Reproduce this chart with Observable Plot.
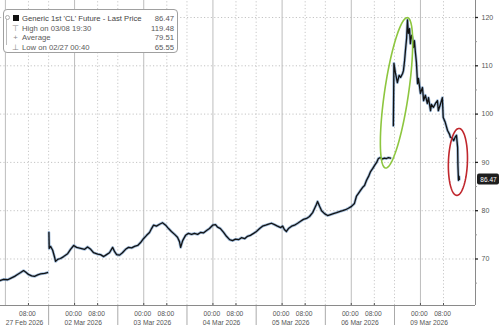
<!DOCTYPE html>
<html><head><meta charset="utf-8">
<script src="https://cdn.jsdelivr.net/npm/d3@7"></script>
<script src="https://cdn.jsdelivr.net/npm/@observablehq/plot@0.6"></script>
<style>
html,body{margin:0;padding:0;background:#fff;}
#wrap{position:relative;width:500px;height:325px;overflow:hidden;font-family:"Liberation Sans",Arial,sans-serif;}
#legend{position:absolute;left:3px;top:9px;width:175px;height:44px;box-sizing:border-box;border:1px solid #a0a0a0;border-radius:4px;background:#fff;font-size:7.7px;color:#5a5a5a;}
.row{position:absolute;left:0;right:0;height:9px;line-height:9px;white-space:nowrap;}
.lbl{position:absolute;left:18px;}
.val{position:absolute;right:3px;}
.ic{position:absolute;left:8px;width:7px;text-align:center;color:#888;}
.sq{position:absolute;left:9px;top:1.5px;width:6px;height:6px;background:#111;}
</style></head>
<body><div id="wrap"><div id="chart"></div><div id="legend"></div></div>
<script>
// ---- data (x = trading-hour index from 27 Feb 00:00, weekends removed) ----
const feb27Hours = [-1.7,-0.6,0.8,1.8,3.2,4.2,5.3,6.3,7.0,8.0,9.1,10.1,11.2,12.2,13.6,14.6];
const feb27Prices = [65.55,65.8,65.7,66.0,66.4,66.8,67.2,67.6,67.3,66.8,66.5,66.4,66.7,66.9,67.0,67.2];

const mar2to6Hours = [15.1,15.2,15.7,16.4,17.1,17.4,18.1,19.1,20.2,21.6,22.6,23.7,24.7,26.1,27.5,28.5,29.6,30.6,32.0,33.0,34.1,35.1,36.1,37.2,37.9,38.6,
 39.6,40.6,41.7,42.7,43.8,44.8,45.9,46.9,47.9,49.0,50.0,50.7,51.4,52.4,53.5,54.5,55.6,56.6,57.6,58.7,59.7,60.4,60.8,61.5,62.5,63.5,64.6,65.6,66.7,67.7,68.7,69.8,70.8,71.9,72.9,73.6,74.6,75.7,76.7,77.8,78.8,79.8,80.9,81.9,83.0,84.0,85.0,
 86.1,87.1,88.2,89.2,90.3,91.3,92.3,93.4,94.4,95.5,96.2,96.8,97.5,98.2,99.3,100.3,101.4,102.4,103.4,104.5,105.5,106.6,107.3,107.9,108.3,109.0,109.7,110.7,111.8,112.8,113.8,114.9,115.9,117.0,118.0,119.0,120.1,121.1,121.8,122.5,123.2,123.9,124.6,125.3,126.0,126.7,127.4,128.1,128.8,129.4,130.1,130.8,131.5,132.2,132.9,133.6];
const mar2to6Prices = [75.5,72.2,72.6,71.8,70.3,69.5,69.9,70.1,70.5,71.1,72.0,72.8,72.4,72.2,72.0,72.5,72.0,71.3,71.0,70.9,70.5,70.9,71.3,72.4,71.5,70.9,
 70.8,71.3,72.0,72.4,72.3,72.6,72.8,73.4,74.2,74.9,75.5,76.3,77.0,76.8,77.2,77.5,77.0,76.3,75.7,75.1,74.5,73.6,72.4,73.8,74.9,75.3,75.1,75.3,75.1,75.5,75.4,75.9,76.3,77.0,77.1,76.6,76.3,75.5,74.7,74.0,73.8,74.1,74.0,74.4,74.2,74.7,74.9,
 75.3,75.7,76.3,76.8,77.0,77.2,77.4,77.1,76.8,76.5,76.8,76.1,75.7,76.3,76.8,77.0,77.4,77.8,78.2,78.4,78.8,79.6,80.5,81.3,81.9,80.9,80.0,79.4,79.0,79.2,79.4,79.6,79.8,80.0,80.2,80.5,80.9,81.5,83.0,83.6,84.2,84.8,85.2,86.3,87.1,88.1,88.7,89.4,90.0,90.8,91.0,90.7,90.9,90.8,91.0,90.9];

const mar9Hours = [134.6,134.8,135.3,136.0,136.6,137.1,137.8,138.1,138.5,138.8,139.2,139.5,139.8,140.2,140.5,140.9,141.2,141.6,141.9,142.3,
 142.6,143.0,143.3,144.0,144.7,145.1,145.7,146.4,146.8,147.5,147.8,148.5,149.2,149.9,150.2,150.9,151.6,151.9,152.6,153.4,154.1,154.4,155.1,155.5,156.2,156.5,156.9,157.0,157.2,157.4,157.5];
const mar9Prices = [97.6,110.5,108.6,106.5,108.0,107.6,108.4,109.0,111.1,113.2,115.7,119.48,116.7,117.7,114.6,116.3,115.9,113.8,115.2,112.5,
 110.7,106.3,107.4,104.3,105.5,102.8,103.9,102.2,103.4,100.7,102.0,101.4,102.2,102.8,100.7,102.0,103.4,99.3,98.3,96.6,95.8,95.2,95.0,94.5,95.4,95.6,93.1,89.4,86.3,87.1,86.47];

const yTicks = [70,80,90,100,110,120];
const yMinorTicks = [65,75,85,95,105,115];
const dayNames = ["27 Feb 2026","02 Mar 2026","03 Mar 2026","04 Mar 2026","05 Mar 2026","06 Mar 2026","09 Mar 2026"];
const midnightHours = [0,24,48,72,96,120,144];
const morningHours = [8,32,56,80,104,128,152];
const sessionBreaks = [15,39,63,87,111,135];
const timeTickHours = [8,24,32,48,56,72,80,96,104,120,128,144,152];
const timeTickLabels = ["08:00","00:00","08:00","00:00","08:00","00:00","08:00","00:00","08:00","00:00","08:00","00:00","08:00"];

const legendLabels = ["Generic 1st 'CL' Future - Last Price","High on 03/08 19:30","Average","Low on 02/27 00:40"];
const legendValues = ["86.47","119.48","79.51","65.55"];
const lastPrice = mar9Prices[mar9Prices.length-1];

// ---- layout ----
const W = 500, H = 325, mR = 25, mB = 20;
const xMin = -1.7, xMax = 163.1, yMin = 60.37, yMax = 123.52;
const plotW = W - mR, plotH = H - mB;
const pxX = (xMax - xMin) / plotW, pxY = (yMax - yMin) / plotH;

const rows = [
  ...feb27Hours.map((h,i)=>({h, p:feb27Prices[i], s:"a"})),
  ...mar2to6Hours.map((h,i)=>({h, p:mar2to6Prices[i], s:"b"})),
  ...mar9Hours.map((h,i)=>({h, p:mar9Prices[i], s:"c"}))
];

const bounds = [xMin, ...sessionBreaks, sessionBreaks[sessionBreaks.length-1] + 24];
const dayLabels = dayNames.map((d,i)=>({d, h:(bounds[i]+bounds[i+1])/2}));
const timeLabels = timeTickHours.map((h,i)=>({h, t:timeTickLabels[i]}));

// annotation ellipses (centre in data units, radii in pixels)
const annotations = [
  {h:135.7, p:104.4, rx:12, ry:76, angle:8.3, color:"#8dc63f"},
  {h:157.0, p:90.1, rx:9.5, ry:33.5, angle:2, color:"#c0272d"}
];
const ellipsePts = [];
annotations.forEach((a,k)=>{
  const th = a.angle*Math.PI/180;
  for (let i=0;i<=96;i++){
    const t = i/96*2*Math.PI;
    const ex = a.rx*Math.cos(t), ey = a.ry*Math.sin(t);
    const x = ex*Math.cos(th) + ey*Math.sin(th);
    const y = -ex*Math.sin(th) + ey*Math.cos(th);
    ellipsePts.push({h:a.h + x*pxX, p:a.p + y*pxY, k, color:a.color});
  }
});

const font = "Liberation Sans, Arial, sans-serif";
const chart = Plot.plot({
  width: W, height: H,
  marginLeft: 0, marginRight: mR, marginTop: 0, marginBottom: mB,
  x: {domain:[xMin,xMax], axis:null},
  y: {domain:[yMin,yMax], axis:null},
  style: {fontFamily: font, background:"white", overflow:"visible"},
  marks: [
    Plot.ruleY(yTicks, {y:d=>d, x1:xMin, x2:xMax, stroke:"#c4c4c4", strokeDasharray:"1.2,2.2"}),
    Plot.ruleX(midnightHours, {x:d=>d, y1:yMin, y2:yMax, stroke:"#bdbdbd", strokeWidth:1}),
    Plot.ruleX([...morningHours, ...sessionBreaks], {x:d=>d, y1:yMin, y2:yMax, stroke:"#c8c8c8", strokeDasharray:"1.2,2.2"}),
    Plot.ruleX(sessionBreaks, {x:d=>d, y1:yMin, y2:yMin - mB*pxY, stroke:"#aaa"}),
    Plot.ruleX([xMax], {x:d=>d, y1:yMin, y2:yMax, stroke:"#8a8a8a"}),
    Plot.ruleY([yMin], {y:d=>d, x1:xMin, x2:xMax, stroke:"#8a8a8a"}),
    Plot.ruleY(yTicks, {y:d=>d, x1:xMax, x2:xMax + 3*pxX, stroke:"#222", strokeWidth:1.3}),
    Plot.ruleY(yMinorTicks, {y:d=>d, x1:xMax, x2:xMax + 2*pxX, stroke:"#999"}),
    Plot.ruleX(timeTickHours, {x:d=>d, y1:yMin, y2:yMin + 2*pxY, stroke:"#555"}),
    Plot.text(yTicks, {x:xMax, y:d=>d, dx:6, text:d=>String(d), textAnchor:"start", fontSize:7, fill:"#555"}),
    Plot.text(timeLabels, {x:"h", y:yMin, dy:8, dx:-1, text:"t", fontSize:6.7, fill:"#555"}),
    Plot.text(dayLabels, {x:"h", y:yMin, dy:17, text:"d", fontSize:6.7, fill:"#555"}),
    Plot.line(rows, {x:"h", y:"p", z:"s", stroke:"#3f78b5", strokeWidth:2.8, strokeOpacity:0.5}),
    Plot.line(rows, {x:"h", y:"p", z:"s", stroke:"#121212", strokeWidth:1.3}),
    Plot.line(ellipsePts, {x:"h", y:"p", z:"k", stroke:"color", strokeWidth:1.6, curve:"linear"}),
    Plot.rect([lastPrice], {x1:xMax + 2*pxX, x2:xMax + 24*pxX, y1:d=>d - 5.5*pxY, y2:d=>d + 5.5*pxY, fill:"#1e1e1e", rx:2}),
    Plot.text([lastPrice], {x:xMax + 13*pxX, y:d=>d, text:d=>d.toFixed(2), fill:"white", fontSize:6.5})
  ]
});
document.getElementById("chart").appendChild(chart);

// legend box
const lg = document.getElementById("legend");
const tops = [3.5, 13.5, 23, 32.5];
const icons = ["", "\u22A4", "+", "\u22A5"];
let html = '<div style="position:absolute;left:2px;top:7px;width:0;height:28px;border-left:1px solid #bbb"></div>';
html += '<div style="position:absolute;left:0.5px;top:5px;width:3px;height:3px;border:1px solid #aaa;border-radius:50%;background:#fff"></div>';
legendLabels.forEach((l,i)=>{
  html += `<div class="row" style="top:${tops[i]}px">` +
    (i===0 ? '<div class="sq"></div>' : `<div class="ic">${icons[i]}</div>`) +
    `<span class="lbl" style="${i===0?'color:#444':''}">${l}</span><span class="val">${legendValues[i]}</span></div>`;
});
lg.innerHTML = html;
</script>
</body></html>
